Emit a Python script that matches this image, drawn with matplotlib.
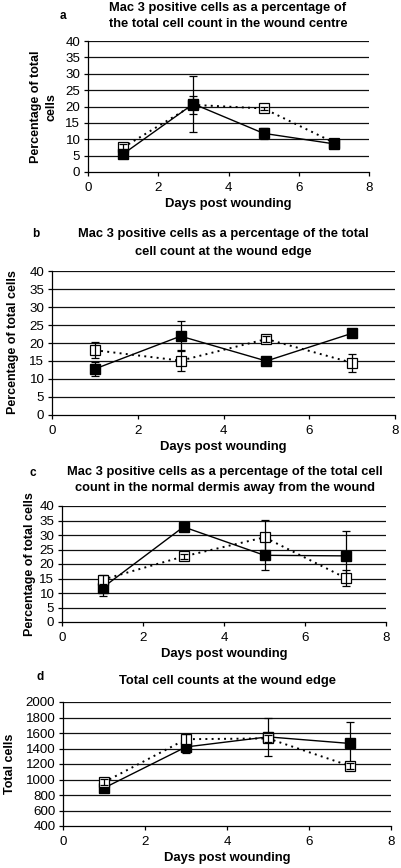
import matplotlib
matplotlib.use("Agg")
import matplotlib.pyplot as plt
import numpy as np

plt.rcParams['font.family'] = ['Liberation Sans', 'DejaVu Sans']

days = [1, 3, 5, 7]

# Panel a: wound centre (%)
a_filled = [5.5, 20.8, 11.8, 8.6]
a_filled_err = [0.8, 8.5, 1.6, 1.0]
a_open = [7.5, 20.5, 19.4, 9.0]
a_open_err = [1.0, 2.8, 0.6, 0.6]

# Panel b: wound edge (%)
b_filled = [12.8, 21.9, 15.0, 22.7]
b_filled_err = [2.0, 4.1, 0.5, 0.6]
b_open = [18.0, 15.1, 21.1, 14.5]
b_open_err = [2.2, 3.0, 0.8, 2.5]

# Panel c: normal dermis (%)
c_filled = [11.8, 32.8, 23.0, 22.8]
c_filled_err = [2.8, 1.0, 5.0, 8.6]
c_open = [14.6, 22.6, 29.2, 15.2]
c_open_err = [1.6, 1.0, 6.0, 2.8]

# Panel d: total cell counts
d_filled = [890, 1420, 1550, 1465]
d_filled_err = [40, 80, 250, 280]
d_open = [965, 1520, 1530, 1175]
d_open_err = [40, 70, 40, 40]

W, H = 401, 868
fig = plt.figure(figsize=(W / 100, H / 100), dpi=100)

TITLE_FS = 9.3
LABEL_FS = 9.0
XLABEL_FS = 9.4
TICK_FS = 9.6


def ax_px(l, r, t, b):
    return fig.add_axes([l / W, 1 - b / H, (r - l) / W, (b - t) / H])


def ftext(x, y, s, **kw):
    fig.text(x / W, 1 - y / H, s, **kw)


def style(ax, ylim, yticks):
    ax.set_xlim(0, 8)
    ax.set_xticks([0, 2, 4, 6, 8])
    ax.set_ylim(*ylim)
    ax.set_yticks(yticks)
    for yv in yticks[1:]:
        ax.axhline(yv, color='#111111', lw=0.9, zorder=1)
    ax.spines['top'].set_visible(False)
    ax.spines['right'].set_visible(False)
    ax.spines['left'].set_linewidth(0.9)
    ax.spines['bottom'].set_linewidth(0.9)
    ax.tick_params(direction='out', length=3, width=0.9, labelsize=TICK_FS)
    ax.tick_params(axis='x', pad=4.5)
    ax.tick_params(axis='y', pad=2.5)
    ax.set_facecolor('white')


def series(ax, y, err, filled, z):
    if filled:
        ax.errorbar(days, y, yerr=err, color='black', lw=1.0, ls='-',
                    marker='s', ms=6.5, mfc='black', mec='black',
                    ecolor='black', elinewidth=0.9, capsize=2.8, capthick=0.9,
                    zorder=z, clip_on=False)
    else:
        ax.plot(days, y, color='black', lw=1.4, ls=(0, (1, 2.2)), zorder=z,
                marker='s', ms=6.5, mfc='white', mec='black', mew=0.9)
        ax.errorbar(days, y, yerr=err, fmt='none', ecolor='black',
                    elinewidth=0.9, capsize=2.8, capthick=0.9, zorder=z + 0.5)


pct_ticks = [0, 5, 10, 15, 20, 25, 30, 35, 40]

# ---- Panel a
ax = ax_px(88, 369, 41, 172)
style(ax, (0, 40), pct_ticks)
series(ax, a_open, a_open_err, False, 3)
series(ax, a_filled, a_filled_err, True, 5)
ftext(63, 16, 'a', fontsize=8.5, fontweight='bold', ha='center', va='center')
ftext(228, 8, 'Mac 3 positive cells as a percentage of', fontsize=TITLE_FS,
      fontweight='bold', ha='center', va='center')
ftext(228, 24, 'the total cell count in the wound centre', fontsize=TITLE_FS,
      fontweight='bold', ha='center', va='center')
ftext(44, 107, 'Percentage of total\ncells', fontsize=LABEL_FS, fontweight='bold',
      ha='center', va='center', rotation=90, linespacing=1.35)
ftext(228, 204, 'Days post wounding', fontsize=XLABEL_FS, fontweight='bold',
      ha='center', va='center')

# ---- Panel b
ax = ax_px(52, 395, 271, 415)
style(ax, (0, 40), pct_ticks)
series(ax, b_open, b_open_err, False, 3)
series(ax, b_filled, b_filled_err, True, 5)
ftext(36, 234, 'b', fontsize=8.5, fontweight='bold', ha='center', va='center')
ftext(223, 234, 'Mac 3 positive cells as a percentage of the total',
      fontsize=TITLE_FS, fontweight='bold', ha='center', va='center')
ftext(223, 252, 'cell count at the wound edge', fontsize=TITLE_FS,
      fontweight='bold', ha='center', va='center')
ftext(13, 342, 'Percentage of total cells', fontsize=LABEL_FS, fontweight='bold',
      ha='center', va='center', rotation=90)
ftext(223, 447, 'Days post wounding', fontsize=XLABEL_FS, fontweight='bold',
      ha='center', va='center')

# ---- Panel c
ax = ax_px(62, 386, 506, 622)
style(ax, (0, 40), pct_ticks)
series(ax, c_filled, c_filled_err, True, 3)
series(ax, c_open, c_open_err, False, 5)
ftext(33, 473, 'c', fontsize=8.5, fontweight='bold', ha='center', va='center')
ftext(225, 472, 'Mac 3 positive cells as a percentage of the total cell',
      fontsize=TITLE_FS, fontweight='bold', ha='center', va='center')
ftext(225, 488, 'count in the normal dermis away from the wound',
      fontsize=TITLE_FS, fontweight='bold', ha='center', va='center')
ftext(30, 564, 'Percentage of total cells', fontsize=LABEL_FS, fontweight='bold',
      ha='center', va='center', rotation=90)
ftext(224, 654, 'Days post wounding', fontsize=XLABEL_FS, fontweight='bold',
      ha='center', va='center')

# ---- Panel d
ax = ax_px(63, 391, 702, 826)
style(ax, (400, 2000), [400, 600, 800, 1000, 1200, 1400, 1600, 1800, 2000])
series(ax, d_filled, d_filled_err, True, 3)
series(ax, d_open, d_open_err, False, 5)
ftext(40, 677, 'd', fontsize=8.5, fontweight='bold', ha='center', va='center')
ftext(227, 681, 'Total cell counts at the wound edge', fontsize=TITLE_FS,
      fontweight='bold', ha='center', va='center')
ftext(10, 764, 'Total cells', fontsize=LABEL_FS, fontweight='bold',
      ha='center', va='center', rotation=90)
ftext(227, 858, 'Days post wounding', fontsize=XLABEL_FS, fontweight='bold',
      ha='center', va='center')

fig.savefig('out.png', dpi=100, facecolor='white')
